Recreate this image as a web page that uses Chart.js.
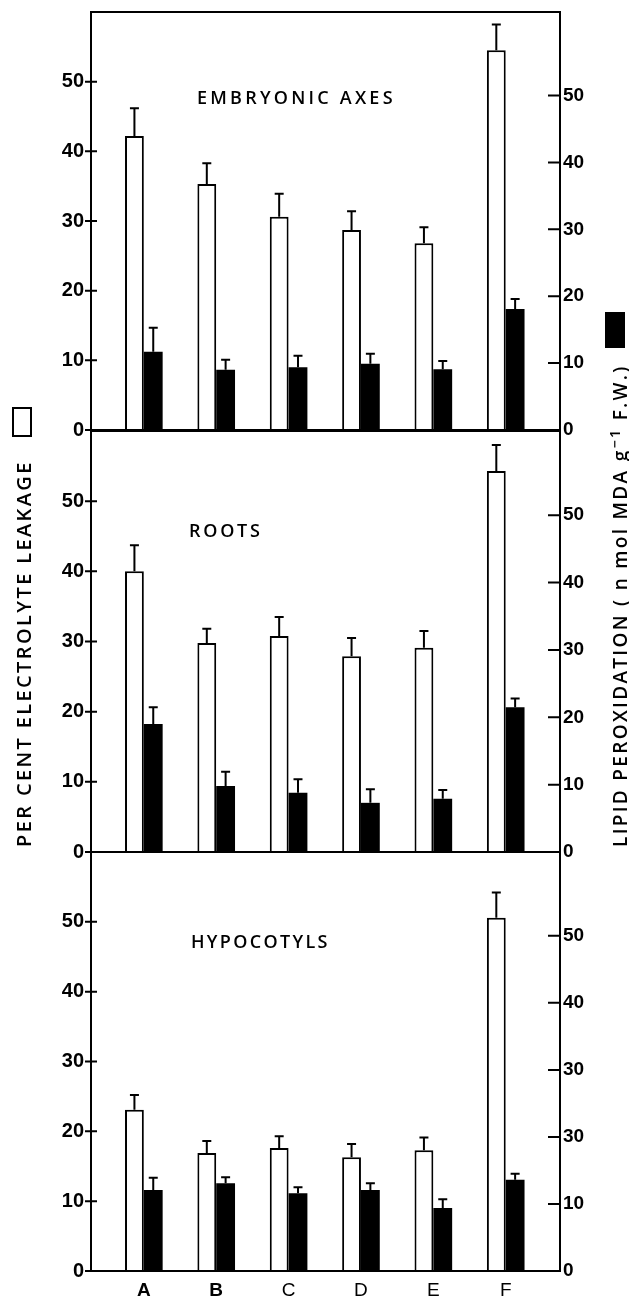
<!DOCTYPE html>
<html lang="en">
<head>
<meta charset="UTF-8">
<title>Electrolyte leakage and lipid peroxidation</title>
<script src="https://cdn.jsdelivr.net/npm/chart.js"></script>
<style>
  body { margin: 0; background: #fff; }
  #fig { position: relative; width: 629px; height: 1299px; overflow: hidden; background: #fff; }
  canvas { position: absolute; left: 0; }
  .txt { position: absolute; white-space: nowrap; color: #000; font-family: "Open Sans", "DejaVu Sans", sans-serif; font-weight: 600; }
  .rot { transform-origin: 0 0; transform: rotate(-90deg); }
  .box { position: absolute; border: 2px solid #000; box-sizing: border-box; }
  sup { font-size: 0.75em; }
</style>
</head>
<body>
<div id="fig">
  <canvas id="panel1" width="629" height="450" style="top:0px"></canvas>
  <canvas id="panel2" width="629" height="441" style="top:431px"></canvas>
  <canvas id="panel3" width="629" height="447" style="top:852px"></canvas>

  <!-- panel titles -->
  <div class="txt fit" data-w="196" style="left:197px; top:86px; font-size:18px; line-height:22px">EMBRYONIC AXES</div>
  <div class="txt fit" data-w="71" style="left:189px; top:519px; font-size:18px; line-height:22px">ROOTS</div>
  <div class="txt fit" data-w="137" style="left:191px; top:930px; font-size:18px; line-height:22px">HYPOCOTYLS</div>

  <!-- axis titles -->
  <div class="txt fit rot" data-w="384" style="left:11px; top:847px; font-size:20px; line-height:26px">PER CENT ELECTROLYTE LEAKAGE</div>
  <div class="box" style="left:12px; top:407px; width:20px; height:30px; background:#fff"></div>
  <div class="txt fit rot" data-w="480" style="left:602px; top:847px; font-size:19px; line-height:25px">LIPID PEROXIDATION ( n mol MDA g<sup>&minus;1</sup> F.W.)</div>
  <div class="box" style="left:605px; top:312px; width:20px; height:36px; background:#000"></div>
</div>

<script>
// categories
const categories = ['A', 'B', 'C', 'D', 'E', 'F'];

// embryonic axes
const axesLeakage = [42.2, 35.3, 30.6, 28.7, 26.8, 54.5];
const axesLeakageErr = [4.0, 3.0, 3.3, 2.7, 2.3, 3.7];
const axesMda = [11.7, 9.0, 9.4, 9.9, 9.1, 18.1];
const axesMdaErr = [3.6, 1.5, 1.7, 1.5, 1.2, 1.5];

// roots
const rootsLeakage = [40.0, 29.8, 30.8, 27.9, 29.1, 54.3];
const rootsLeakageErr = [3.7, 2.0, 2.7, 2.6, 2.4, 3.7];
const rootsMda = [19.0, 9.8, 8.8, 7.3, 7.9, 21.5];
const rootsMdaErr = [2.5, 2.1, 2.0, 2.0, 1.3, 1.3];

// hypocotyls
const hypoLeakage = [23.1, 16.9, 17.6, 16.3, 17.3, 50.6];
const hypoLeakageErr = [2.1, 1.7, 1.7, 1.9, 1.8, 3.6];
const hypoMda = [12.1, 13.1, 11.6, 12.1, 9.4, 13.6];
const hypoMdaErr = [1.8, 0.9, 0.9, 1.0, 1.3, 0.9];

// ticks
const tickValues = [0, 10, 20, 30, 40, 50];
const leftTickLabels = ['0', '10', '20', '30', '40', '50'];
const rightTickLabels = ['0', '10', '20', '30', '40', '50'];
const rightTickLabelsHypo = ['0', '10', '30', '30', '40', '50']; // as printed in the original

// fit the html texts to their length
document.querySelectorAll('.fit').forEach(function (el) {
  const target = +el.dataset.w;
  const n = el.textContent.length;
  const w0 = el.scrollWidth;
  el.style.letterSpacing = ((target - w0) / (n - 1)) + 'px';
});

// whiskers above the bars
const errorBars = {
  id: 'errorBars',
  afterDatasetsDraw(chart) {
    const ctx = chart.ctx;
    ctx.save();
    ctx.strokeStyle = '#000';
    ctx.lineWidth = 2;
    chart.data.datasets.forEach(function (ds, i) {
      const meta = chart.getDatasetMeta(i);
      const yScale = chart.scales[ds.yAxisID];
      meta.data.forEach(function (bar, j) {
        const top = yScale.getPixelForValue(ds.data[j].y + ds.errors[j]);
        ctx.beginPath();
        ctx.moveTo(bar.x, bar.y);
        ctx.lineTo(bar.x, top);
        ctx.moveTo(bar.x - 4.5, top);
        ctx.lineTo(bar.x + 4.5, top);
        ctx.stroke();
      });
    });
    ctx.restore();
  }
};

// box round the panel and the tick marks
const frame = {
  id: 'frame',
  afterDraw(chart) {
    const ctx = chart.ctx;
    const a = chart.chartArea;
    const yL = chart.scales.yL;
    const yR = chart.scales.yR;
    ctx.save();
    ctx.strokeStyle = '#000';
    ctx.lineWidth = 2;
    ctx.strokeRect(a.left, a.top, a.right - a.left, a.bottom - a.top);
    ctx.beginPath();
    yL.ticks.forEach(function (t, i) {
      const y = yL.getPixelForTick(i);
      ctx.moveTo(a.left - 6, y);
      ctx.lineTo(a.left + 6, y);
    });
    yR.ticks.forEach(function (t, i) {
      const y = yR.getPixelForTick(i);
      ctx.moveTo(a.right - 12, y);
      ctx.lineTo(a.right, y);
    });
    ctx.stroke();
    ctx.restore();
  }
};

// no extra room for labels that stick out past the ends
function noOverflow(s) {
  s.paddingTop = 0;
  s.paddingBottom = 0;
  s.paddingLeft = 0;
  s.paddingRight = 0;
}

function makePanel(id, leakage, leakageErr, mda, mdaErr, rightLabels, showX, padTop, padBottom) {
  const dados = {
    datasets: [{
      label: 'Per cent electrolyte leakage',
      data: categories.map(function (c, i) { return { x: i + 1, y: leakage[i] }; }),
      errors: leakageErr,
      yAxisID: 'yL',
      backgroundColor: '#fff',
      borderColor: '#000',
      borderWidth: 2,
      barPercentage: 1,
      categoryPercentage: 0.52
    }, {
      label: 'Lipid peroxidation',
      data: categories.map(function (c, i) { return { x: i + 1, y: mda[i] }; }),
      errors: mdaErr,
      yAxisID: 'yR',
      backgroundColor: '#000',
      borderColor: '#000',
      borderWidth: 0,
      barPercentage: 1,
      categoryPercentage: 0.52
    }]
  };

  const config = {
    type: 'bar',
    data: dados,
    plugins: [errorBars, frame],
    options: {
      responsive: false,
      animation: false,
      layout: { padding: { top: padTop, bottom: padBottom, left: 0, right: 0 } },
      plugins: { legend: { display: false }, tooltip: { enabled: false } },
      scales: {
        x: {
          type: 'linear',
          display: showX,
          min: 0.27,
          max: 6.75,
          offset: false,
          afterFit: function (s) { noOverflow(s); s.height = showX ? 28 : 0; },
          afterBuildTicks: function (s) { s.ticks = categories.map(function (c, i) { return { value: i + 1 }; }); },
          grid: { display: false, drawTicks: false, offset: false },
          border: { display: false },
          ticks: {
            padding: 8,
            color: '#000',
            maxRotation: 0,
            autoSkip: false,
            font: function (c) {
              return { family: 'Liberation Sans', size: 19, weight: c.index < 2 ? 'bold' : 'normal' };
            },
            callback: function (v, i) { return categories[i]; }
          }
        },
        yL: {
          position: 'left',
          min: 0,
          max: 60,
          afterFit: function (s) { noOverflow(s); s.width = 91; },
          afterBuildTicks: function (s) { s.ticks = tickValues.map(function (v) { return { value: v }; }); },
          grid: { display: false, drawTicks: false },
          border: { display: false },
          ticks: {
            padding: 7,
            color: '#000',
            font: { family: 'Liberation Sans', size: 20, weight: 'bold' },
            callback: function (v, i) { return leftTickLabels[i]; }
          }
        },
        yR: {
          position: 'right',
          min: 0,
          max: 62.5,
          afterFit: function (s) { noOverflow(s); s.width = 69; },
          afterBuildTicks: function (s) { s.ticks = tickValues.map(function (v) { return { value: v }; }); },
          grid: { display: false, drawTicks: false },
          border: { display: false },
          ticks: {
            padding: 3,
            color: '#000',
            font: { family: 'Liberation Sans', size: 19, weight: 'bold' },
            callback: function (v, i) { return rightLabels[i]; }
          }
        }
      }
    }
  };

  return new Chart(document.getElementById(id), config);
}

makePanel('panel1', axesLeakage, axesLeakageErr, axesMda, axesMdaErr, rightTickLabels, false, 12, 20);
makePanel('panel2', rootsLeakage, rootsLeakageErr, rootsMda, rootsMdaErr, rightTickLabels, false, 0, 20);
makePanel('panel3', hypoLeakage, hypoLeakageErr, hypoMda, hypoMdaErr, rightTickLabelsHypo, true, 0, 0);
</script>
</body>
</html>
